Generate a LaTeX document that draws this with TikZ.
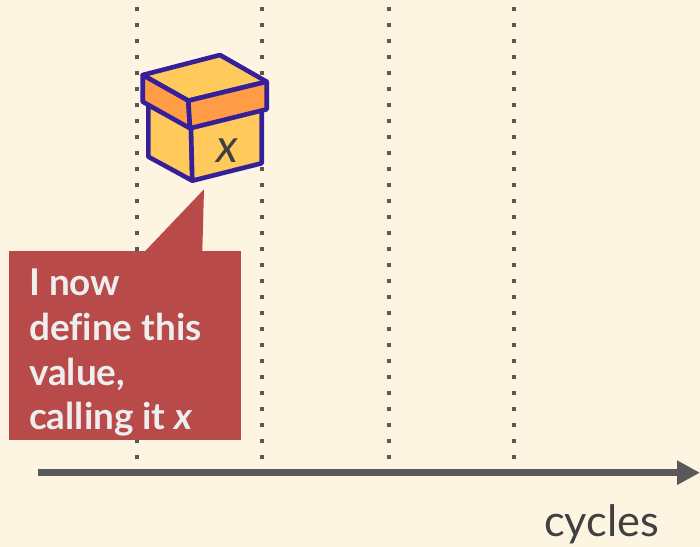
\documentclass[tikz,border=0pt]{standalone}
\usepackage{fontspec}
\setmainfont[Ligatures=NoCommon]{Lato}
\usetikzlibrary{arrows.meta}
\definecolor{bgc}{HTML}{FDF5E2}
\definecolor{dotc}{HTML}{595959}
\definecolor{boxline}{HTML}{35209A}
\definecolor{boxy}{HTML}{FFC95C}
\definecolor{boxo}{HTML}{FF9C45}
\definecolor{red1}{HTML}{B84A4A}
\definecolor{txt}{HTML}{EEEEEE}
\definecolor{dark}{HTML}{404040}
\tikzset{
  guide/.style={dotc,line width=4bp,dash pattern=on 4bp off 12bp},
  boxface/.style={draw=boxline,line width=4.6bp,line join=round},
  callout/.style={fill=red1,draw=none},
  axisline/.style={dotc,line width=7.5bp,-{Triangle[length=23bp,width=23bp]}},
}
\begin{document}
\begin{tikzpicture}[x=1bp,y=-1bp]
\path[use as bounding box,fill=bgc] (0,0) rectangle (700,547);
% guides
\foreach \n/\gx in {a/137,b/262.3,c/389,d/514}{
  \coordinate (top\n) at (\gx,7.3);
  \coordinate (bot\n) at (\gx,460);
  \draw[guide] (top\n) -- (bot\n);
}
% box
\draw[boxface,fill=boxy] (148.3,105) -- (148.3,156.7) -- (192.3,180.7) -- (191,128) -- cycle;
\draw[boxface,fill=boxy] (191,128) -- (192.3,180.7) -- (261.7,163.3) -- (261.7,105) -- cycle;
\draw[boxface,fill=boxy] (142.7,75) -- (220,55) -- (266.7,81.7) -- (188.3,100.7) -- cycle;
\draw[boxface,fill=boxo] (142.7,75) -- (188.3,100.7) -- (190,128.3) -- (142.7,101.7) -- cycle;
\draw[boxface,fill=boxo] (188.3,100.7) -- (266.7,81.7) -- (266.7,109.3) -- (190,128.3) -- cycle;
\node[text=dark,font=\fontsize{47}{50}\selectfont\itshape,inner sep=0pt,anchor=base] (xlabel) at (227.5,163) {x};
% callout
\fill[callout] (144.3,252) -- (204,189.3) -- (202.3,252) -- cycle;
\node[callout,anchor=north west,inner sep=0pt,minimum width=232.3bp,minimum height=188.4bp] (note) at (8.7,251.3) {};
\node[text=txt,font=\fontsize{37}{44.8}\selectfont\bfseries,align=left,anchor=north west,inner sep=0pt] (notetext) at (29,269)
  {I now\\define this\\value,\\calling it \textit{x}};
% axis
\coordinate (axstart) at (37.7,472.7);
\coordinate (axend) at (700,472.7);
\draw[axisline] (axstart) -- (axend);
\node[text=dark,font=\fontsize{43.5}{46}\selectfont,anchor=base,inner sep=0pt] (cycles) at (601.5,536) {cycles};
\end{tikzpicture}
\end{document}
